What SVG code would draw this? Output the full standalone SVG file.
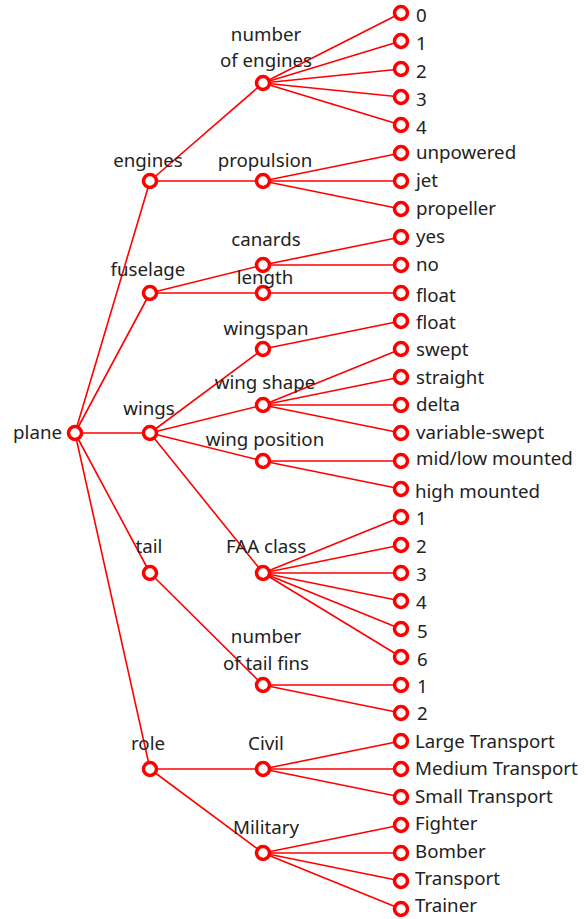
<svg xmlns="http://www.w3.org/2000/svg" width="586" height="919" viewBox="0 0 586 919">
<style>
.e line{stroke:#ff0000;stroke-width:1.6;fill:none}
circle{fill:#fff;stroke:#ff0000;stroke-width:3.5}
text{font-family:"Noto Sans","Liberation Sans",sans-serif;font-size:18.7px;fill:#222}
.m{text-anchor:middle}
</style>
<rect width="586" height="919" fill="#fff"/>
<g class="e" id="edges">
<line x1="75" y1="433" x2="150" y2="181"/><line x1="75" y1="433" x2="150" y2="293"/><line x1="75" y1="433" x2="150" y2="433"/><line x1="75" y1="433" x2="150" y2="573"/><line x1="75" y1="433" x2="150" y2="769"/>
<line x1="150" y1="181" x2="263" y2="83"/><line x1="150" y1="181" x2="263" y2="181"/>
<line x1="150" y1="293" x2="263" y2="265"/><line x1="150" y1="293" x2="263" y2="293"/>
<line x1="150" y1="433" x2="263" y2="349"/><line x1="150" y1="433" x2="263" y2="405"/><line x1="150" y1="433" x2="263" y2="461"/><line x1="150" y1="433" x2="263" y2="573"/>
<line x1="150" y1="573" x2="263" y2="685"/>
<line x1="150" y1="769" x2="263" y2="769"/><line x1="150" y1="769" x2="263" y2="853"/>
<line x1="263" y1="83" x2="401" y2="13"/><line x1="263" y1="83" x2="401" y2="41"/><line x1="263" y1="83" x2="401" y2="69"/><line x1="263" y1="83" x2="401" y2="97"/><line x1="263" y1="83" x2="401" y2="125"/>
<line x1="263" y1="181" x2="401" y2="153"/><line x1="263" y1="181" x2="401" y2="181"/><line x1="263" y1="181" x2="401" y2="209"/>
<line x1="263" y1="265" x2="401" y2="237"/><line x1="263" y1="265" x2="401" y2="265"/>
<line x1="263" y1="293" x2="401" y2="293"/>
<line x1="263" y1="349" x2="401" y2="321"/>
<line x1="263" y1="405" x2="401" y2="349"/><line x1="263" y1="405" x2="401" y2="377"/><line x1="263" y1="405" x2="401" y2="405"/><line x1="263" y1="405" x2="401" y2="433"/>
<line x1="263" y1="461" x2="401" y2="461"/><line x1="263" y1="461" x2="401" y2="489"/>
<line x1="263" y1="573" x2="401" y2="517"/><line x1="263" y1="573" x2="401" y2="545"/><line x1="263" y1="573" x2="401" y2="573"/><line x1="263" y1="573" x2="401" y2="601"/><line x1="263" y1="573" x2="401" y2="629"/><line x1="263" y1="573" x2="401" y2="657"/>
<line x1="263" y1="685" x2="401" y2="685"/><line x1="263" y1="685" x2="401" y2="713"/>
<line x1="263" y1="769" x2="401" y2="741"/><line x1="263" y1="769" x2="401" y2="769"/><line x1="263" y1="769" x2="401" y2="797"/>
<line x1="263" y1="853" x2="401" y2="825"/><line x1="263" y1="853" x2="401" y2="853"/><line x1="263" y1="853" x2="401" y2="881"/><line x1="263" y1="853" x2="401" y2="909"/>
</g>
<g id="plane"><circle cx="75" cy="433" r="6.5"/><text x="62" y="439" text-anchor="end">plane</text></g>
<g id="engines"><circle cx="150" cy="181" r="6.5"/><text class="m" x="148" y="167">engines</text></g>
<g id="fuselage"><circle cx="150" cy="293" r="6.5"/><text class="m" x="148" y="276">fuselage</text></g>
<g id="wings"><circle cx="150" cy="433" r="6.5"/><text class="m" x="149" y="415">wings</text></g>
<g id="tail"><circle cx="150" cy="573" r="6.5"/><text class="m" x="149" y="553">tail</text></g>
<g id="role"><circle cx="150" cy="769" r="6.5"/><text class="m" x="148" y="750">role</text></g>
<g id="number-of-engines"><circle cx="263" cy="83" r="6.5"/><text class="m" x="266" y="41">number</text><text class="m" x="266" y="67">of engines</text></g>
<g id="propulsion"><circle cx="263" cy="181" r="6.5"/><text class="m" x="265" y="167">propulsion</text></g>
<g id="canards"><circle cx="263" cy="265" r="6.5"/><text class="m" x="266" y="246">canards</text></g>
<g id="length"><circle cx="263" cy="293" r="6.5"/><text class="m" x="265" y="284">length</text></g>
<g id="wingspan"><circle cx="263" cy="349" r="6.5"/><text class="m" x="266" y="335">wingspan</text></g>
<g id="wing-shape"><circle cx="263" cy="405" r="6.5"/><text class="m" x="265" y="389">wing shape</text></g>
<g id="wing-position"><circle cx="263" cy="461" r="6.5"/><text class="m" x="265" y="446">wing position</text></g>
<g id="faa-class"><circle cx="263" cy="573" r="6.5"/><text class="m" x="266" y="553">FAA class</text></g>
<g id="number-of-tail-fins"><circle cx="263" cy="685" r="6.5"/><text class="m" x="266" y="643">number</text><text class="m" x="266" y="670">of tail fins</text></g>
<g id="civil"><circle cx="263" cy="769" r="6.5"/><text class="m" x="266" y="750">Civil</text></g>
<g id="military"><circle cx="263" cy="853" r="6.5"/><text class="m" x="266" y="834">Military</text></g>
<g id="e0"><circle cx="401" cy="13" r="6.5"/><text x="416" y="22">0</text></g>
<g id="e1"><circle cx="401" cy="41" r="6.5"/><text x="416" y="50">1</text></g>
<g id="e2"><circle cx="401" cy="69" r="6.5"/><text x="416" y="78">2</text></g>
<g id="e3"><circle cx="401" cy="97" r="6.5"/><text x="416" y="106">3</text></g>
<g id="e4"><circle cx="401" cy="125" r="6.5"/><text x="416" y="134">4</text></g>
<g id="unpowered"><circle cx="401" cy="153" r="6.5"/><text x="416" y="159">unpowered</text></g>
<g id="jet"><circle cx="401" cy="181" r="6.5"/><text x="416" y="187">jet</text></g>
<g id="propeller"><circle cx="401" cy="209" r="6.5"/><text x="416" y="215">propeller</text></g>
<g id="yes"><circle cx="401" cy="237" r="6.5"/><text x="416" y="243">yes</text></g>
<g id="no"><circle cx="401" cy="265" r="6.5"/><text x="416" y="271">no</text></g>
<g id="float1"><circle cx="401" cy="293" r="6.5"/><text x="416" y="302">float</text></g>
<g id="float2"><circle cx="401" cy="321" r="6.5"/><text x="416" y="329">float</text></g>
<g id="swept"><circle cx="401" cy="349" r="6.5"/><text x="416" y="356">swept</text></g>
<g id="straight"><circle cx="401" cy="377" r="6.5"/><text x="416" y="384">straight</text></g>
<g id="delta"><circle cx="401" cy="405" r="6.5"/><text x="416" y="411">delta</text></g>
<g id="variable-swept"><circle cx="401" cy="433" r="6.5"/><text x="416" y="439">variable-swept</text></g>
<g id="mid-low"><circle cx="401" cy="461" r="6.5"/><text x="416" y="465">mid/low mounted</text></g>
<g id="high"><circle cx="401" cy="489" r="6.5"/><text x="415" y="498">high mounted</text></g>
<g id="f1"><circle cx="401" cy="517" r="6.5"/><text x="416" y="525">1</text></g>
<g id="f2"><circle cx="401" cy="545" r="6.5"/><text x="416" y="553">2</text></g>
<g id="f3"><circle cx="401" cy="573" r="6.5"/><text x="416" y="581">3</text></g>
<g id="f4"><circle cx="401" cy="601" r="6.5"/><text x="416" y="609">4</text></g>
<g id="f5"><circle cx="401" cy="629" r="6.5"/><text x="417" y="638">5</text></g>
<g id="f6"><circle cx="401" cy="657" r="6.5"/><text x="417" y="666">6</text></g>
<g id="t1"><circle cx="401" cy="685" r="6.5"/><text x="417" y="693">1</text></g>
<g id="t2"><circle cx="401" cy="713" r="6.5"/><text x="417" y="720">2</text></g>
<g id="large"><circle cx="401" cy="741" r="6.5"/><text x="415" y="748">Large Transport</text></g>
<g id="medium"><circle cx="401" cy="769" r="6.5"/><text x="415" y="775">Medium Transport</text></g>
<g id="small"><circle cx="401" cy="797" r="6.5"/><text x="415" y="803">Small Transport</text></g>
<g id="fighter"><circle cx="401" cy="825" r="6.5"/><text x="415" y="830">Fighter</text></g>
<g id="bomber"><circle cx="401" cy="853" r="6.5"/><text x="415" y="858">Bomber</text></g>
<g id="transport"><circle cx="401" cy="881" r="6.5"/><text x="415" y="885">Transport</text></g>
<g id="trainer"><circle cx="401" cy="909" r="6.5"/><text x="415" y="912">Trainer</text></g>
</svg>
